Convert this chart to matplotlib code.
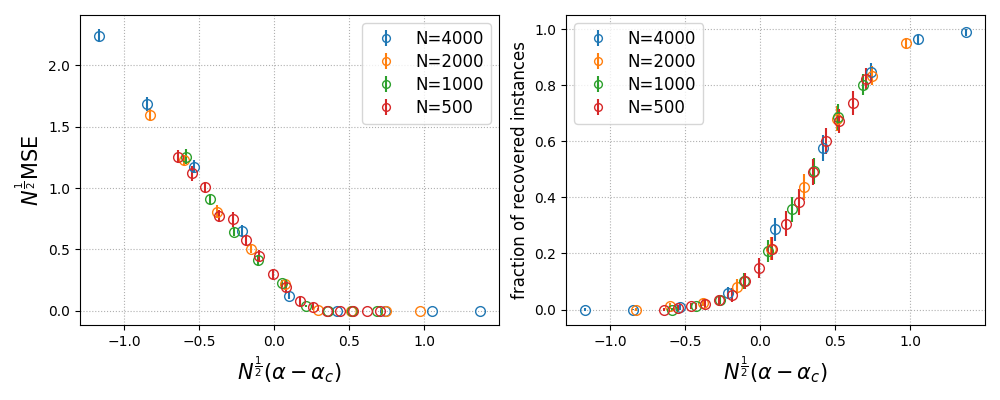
import matplotlib
matplotlib.use("Agg")
import matplotlib.pyplot as plt
import numpy as np

# valores (x = N^{1/2}(alpha - alpha_c))
etiquetas = ["N=4000", "N=2000", "N=1000", "N=500"]

x_4000 = [-1.167, -0.85, -0.534, -0.213, 0.102, 0.42, 0.74, 1.053, 1.373]
x_2000 = [-0.827, -0.602, -0.379, -0.157, 0.072, 0.296, 0.515, 0.745, 0.97]
x_1000 = [-0.584, -0.426, -0.269, -0.105, 0.05, 0.21, 0.362, 0.52, 0.686]
x_500 = [-0.64, -0.547, -0.458, -0.367, -0.275, -0.187, -0.1, -0.009,
         0.08, 0.171, 0.261, 0.351, 0.439, 0.525, 0.618, 0.706]

# painel esquerdo: N^{1/2} MSE
mse_4000 = [2.24, 1.685, 1.175, 0.651, 0.123, 0.0, 0.0, 0.0, 0.0]
mse_4000_err = [0.054, 0.054, 0.054, 0.049, 0.03, 0.0, 0.0, 0.0, 0.0]
mse_2000 = [1.593, 1.229, 0.809, 0.505, 0.217, 0.01, 0.0, 0.0, 0.0]
mse_2000_err = [0.05, 0.04, 0.05, 0.03, 0.04, 0.01, 0.0, 0.0, 0.0]
mse_1000 = [1.256, 0.912, 0.646, 0.415, 0.225, 0.041, 0.0, 0.0, 0.0]
mse_1000_err = [0.06, 0.04, 0.04, 0.04, 0.03, 0.01, 0.0, 0.0, 0.0]
mse_500 = [1.256, 1.121, 1.007, 0.773, 0.746, 0.578, 0.448, 0.301,
           0.195, 0.083, 0.035, 0.0, 0.0, 0.0, 0.0, 0.0]
mse_500_err = [0.05, 0.06, 0.04, 0.05, 0.06, 0.04, 0.05, 0.04,
               0.05, 0.04, 0.03, 0.0, 0.0, 0.0, 0.0, 0.0]

# painel direito: fracao de instancias recuperadas
frac_4000 = [0.0, 0.0, 0.009, 0.06, 0.286, 0.577, 0.848, 0.964, 0.989]
frac_4000_err = [0.005, 0.003, 0.01, 0.019, 0.042, 0.047, 0.031, 0.015, 0.012]
frac_2000 = [0.0, 0.012, 0.025, 0.082, 0.217, 0.438, 0.681, 0.834, 0.95]
frac_2000_err = [0.005, 0.01, 0.012, 0.028, 0.042, 0.047, 0.045, 0.034, 0.02]
frac_1000 = [0.0, 0.013, 0.033, 0.102, 0.208, 0.357, 0.495, 0.687, 0.803]
frac_1000_err = [0.005, 0.01, 0.015, 0.028, 0.04, 0.046, 0.047, 0.045, 0.037]
frac_500 = [0.0, 0.005, 0.013, 0.019, 0.033, 0.052, 0.102, 0.147,
            0.217, 0.307, 0.384, 0.49, 0.601, 0.674, 0.737, 0.822]
frac_500_err = [0.005, 0.01, 0.01, 0.015, 0.02, 0.025, 0.03, 0.036,
                0.042, 0.043, 0.046, 0.046, 0.046, 0.043, 0.043, 0.04]

xs = [x_4000, x_2000, x_1000, x_500]
mses = [mse_4000, mse_2000, mse_1000, mse_500]
mses_err = [mse_4000_err, mse_2000_err, mse_1000_err, mse_500_err]
fracs = [frac_4000, frac_2000, frac_1000, frac_500]
fracs_err = [frac_4000_err, frac_2000_err, frac_1000_err, frac_500_err]
cores = ["C0", "C1", "C2", "C3"]

fig = plt.figure(figsize=(10, 4), dpi=100)
ax1 = fig.add_axes([0.08, 0.1875, 0.419, 0.775])
ax2 = fig.add_axes([0.566, 0.1875, 0.419, 0.775])

for x, y, e, c, lab in zip(xs, mses, mses_err, cores, etiquetas):
    ax1.errorbar(x, y, yerr=e, fmt="o", mfc="none", color=c, markersize=7,
                 label=lab)
for x, y, e, c, lab in zip(xs, fracs, fracs_err, cores, etiquetas):
    ax2.errorbar(x, y, yerr=e, fmt="o", mfc="none", color=c, markersize=7,
                 label=lab)

xlabel = r"$N^{\frac{1}{2}}(\alpha-\alpha_c)$"
ax1.set_xlabel(xlabel, fontsize=15)
ax1.set_ylabel(r"$N^{\frac{1}{2}}$MSE", fontsize=15)
ax2.set_xlabel(xlabel, fontsize=15)
ax2.set_ylabel("fraction of recovered instances", fontsize=12)

ax1.set_yticks(np.arange(0, 2.01, 0.5))
ax2.set_yticks(np.arange(0, 1.01, 0.2))
for ax in (ax1, ax2):
    ax.set_xticks([-1.0, -0.5, 0.0, 0.5, 1.0])
    ax.grid(True, linestyle=":", color="#b0b0b0")

ax1.legend(loc="upper right", fontsize=12, labelspacing=0.3, markerscale=0.8)
ax2.legend(loc="upper left", fontsize=12, labelspacing=0.3, markerscale=0.8)

fig.savefig("out.png", dpi=100)
plt.close(fig)
